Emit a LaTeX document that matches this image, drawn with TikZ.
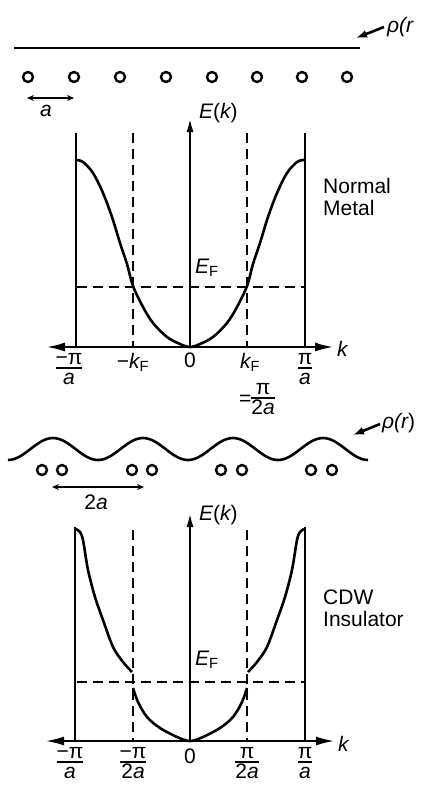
\documentclass[tikz,border=0pt]{standalone}
\usepackage{amsmath}
\usepackage{fontspec}
\setmainfont{Liberation Sans}
\usetikzlibrary{arrows.meta}
\setlength{\arrayrulewidth}{1.6pt}
\newcommand{\myfrac}[2]{\begin{tabular}{@{}c@{}}#1\\[-3.5pt]\hline #2\end{tabular}}
\begin{document}
\begin{tikzpicture}[x=1pt,y=-1pt,
  solidline/.style={line width=2.6pt},
  dashline/.style={line width=2.2pt, dash pattern=on 10pt off 6pt},
  atom/.style={circle, draw, line width=2.4pt, minimum size=10pt, inner sep=0pt},
  lbl/.style={font=\fontsize{21}{22}\selectfont, inner sep=0pt},
  axisarrow/.style={line width=2.6pt, {Latex[length=19pt,width=9pt]}-{Latex[length=19pt,width=9pt]}},
  eaxis/.style={line width=2.6pt, -{Latex[length=15pt,width=7pt]}},
  pointer/.style={line width=2.6pt, -{Latex[length=11pt,width=8pt]}},
  dimarrow/.style={line width=2pt, {Stealth[length=7pt,width=6pt]}-{Stealth[length=7pt,width=6pt]}}
]
\useasboundingbox (0,0) rectangle (424,785);

% ===== Top: normal metal =====
\coordinate (rhoL) at (14,48);
\coordinate (rhoR) at (360,48);
\draw[solidline] (rhoL) -- (rhoR);
\node[lbl, anchor=west] (rhoA) at (387,27) {\itshape ρ(r};
\coordinate (rhoAt) at (356,38);
\draw[pointer] (rhoA.west) ++(-3,0) coordinate (rhoAs) -- (rhoAt);

\foreach \i/\x in {1/28,2/74,3/120,4/166,5/212,6/257,7/302,8/347}{
  \node[atom] (ta\i) at (\x,77) {};
}
\coordinate (daL) at (27,98);
\coordinate (daR) at (74,98);
\draw[dimarrow] (daL) -- (daR);
\node[lbl] (alab) at (46,111) {\itshape a};

% axes
\coordinate (tkL) at (46,347);
\coordinate (tkR) at (334,347);
\coordinate (tO) at (190,347);
\coordinate (tEtop) at (190,117);
\draw[axisarrow] (tkL) -- (tkR);
\draw[eaxis] (tO) -- (tEtop);
\node[lbl, anchor=west] (tE) at (199,113) {\itshape E\upshape(\itshape k\upshape)};
\node[lbl, anchor=west] (tk) at (337,349) {\itshape k};

% zone boundaries
\coordinate (tBLt) at (76,133); \coordinate (tBLb) at (76,347);
\coordinate (tBRt) at (305,133); \coordinate (tBRb) at (305,347);
\draw[solidline] (tBLt) -- (tBLb);
\draw[solidline] (tBRt) -- (tBRb);
\coordinate (tFLt) at (133,133); \coordinate (tFLb) at (133,347);
\coordinate (tFRt) at (247,133); \coordinate (tFRb) at (247,347);
\draw[dashline] (tFLt) -- (tFLb);
\draw[dashline] (tFRt) -- (tFRb);
\coordinate (tEFL) at (77,287); \coordinate (tEFR) at (305,287);
\draw[dashline] (tEFL) -- (tEFR);
\node[lbl, anchor=west] (tEF) at (195,268) {$\text{\itshape E}_{\text{F}}$};

% band
\draw[solidline, line join=round] plot[smooth, tension=0.55] coordinates {
 (76,160) (83,162) (93,173) (103,193) (112,217) (120,243) (127,264) (133,286)
 (143,307) (153,323) (167,337) (180,344) (190,347)
 (200,344) (213,337) (227,323) (237,307) (247,286) (253,264) (260,243) (268,217)
 (277,193) (287,173) (297,162) (304,160)};

\node[lbl] (tl1) at (69,370) {\myfrac{−π}{\itshape a}};
\node[lbl] (tl2) at (133,362) {−$\text{\itshape k}_{\text{F}}$};
\node[lbl] (tl3) at (190,360) {0};
\node[lbl] (tl4) at (250,362) {$\text{\itshape k}_{\text{F}}$};
\node[lbl] (tl5) at (305,370) {\myfrac{π}{\itshape a}};
\node[lbl] (tl6) at (257,400) {=\myfrac{π}{2\itshape a}};

\node[lbl, align=left, anchor=west] (nm) at (323,197) {Normal\\Metal};

% ===== Bottom: CDW insulator =====
\draw[solidline] plot[domain=8:368, samples=121, smooth] (\x,{449-11*cos(4*(\x-53))});
\node[lbl, anchor=west] (rhoB) at (382,423) {\itshape ρ(r\upshape)};
\coordinate (rhoBt) at (353,435);
\draw[pointer] (rhoB.west) ++(-2,1) coordinate (rhoBs) -- (rhoBt);

\foreach \i/\x in {1/42,2/62,3/132,4/152,5/221,6/242,7/311,8/332}{
  \node[atom] (ba\i) at (\x,470) {};
}
\coordinate (dbL) at (52,487);
\coordinate (dbR) at (144,487);
\draw[dimarrow] (dbL) -- (dbR);
\node[lbl] (a2lab) at (96,502) {2\itshape a};

\coordinate (bkL) at (45,741);
\coordinate (bkR) at (335,741);
\coordinate (bO) at (190,741);
\coordinate (bEtop) at (190,512);
\draw[axisarrow] (bkL) -- (bkR);
\draw[eaxis] (bO) -- (bEtop);
\node[lbl, anchor=west] (bE) at (199,515) {\itshape E\upshape(\itshape k\upshape)};
\node[lbl, anchor=west] (bk) at (338,744) {\itshape k};

\coordinate (bBLt) at (75,527); \coordinate (bBLb) at (75,741);
\coordinate (bBRt) at (305,527); \coordinate (bBRb) at (305,741);
\draw[solidline] (bBLt) -- (bBLb);
\draw[solidline] (bBRt) -- (bBRb);
\coordinate (bFLt) at (133,530); \coordinate (bFLb) at (133,741);
\coordinate (bFRt) at (247,530); \coordinate (bFRb) at (247,741);
\draw[dashline] (bFLt) -- (bFLb);
\draw[dashline] (bFRt) -- (bFRb);
\coordinate (bEFL) at (77,682); \coordinate (bEFR) at (305,682);
\draw[dashline] (bEFL) -- (bEFR);
\node[lbl, anchor=west] (bEF) at (195,660) {$\text{\itshape E}_{\text{F}}$};

% split bands
\draw[solidline, line join=round] plot[smooth, tension=0.5] coordinates {
 (76,529) (80,532) (83,540) (88,570) (95,597) (103,620) (113,647) (123,662) (132,672)};
\draw[solidline, line join=round] plot[smooth, tension=0.5] coordinates {
 (248,672) (257,662) (267,647) (277,620) (285,597) (292,570) (297,540) (300,532) (304,529)};
\draw[solidline, line join=round] plot[smooth, tension=0.55] coordinates {
 (133,688) (138,702) (147,717) (160,728) (177,737) (190,741)
 (203,737) (220,728) (233,717) (242,702) (247,688)};

\node[lbl] (bl1) at (70,764) {\myfrac{−π}{\itshape a}};
\node[lbl] (bl2) at (133,764) {\myfrac{−π}{2\itshape a}};
\node[lbl] (bl3) at (190,756) {0};
\node[lbl] (bl4) at (247,764) {\myfrac{π}{2\itshape a}};
\node[lbl] (bl5) at (305,764) {\myfrac{π}{\itshape a}};

\node[lbl, align=left, anchor=west] (cdw) at (323,608) {CDW\\Insulator};
\end{tikzpicture}
\end{document}
